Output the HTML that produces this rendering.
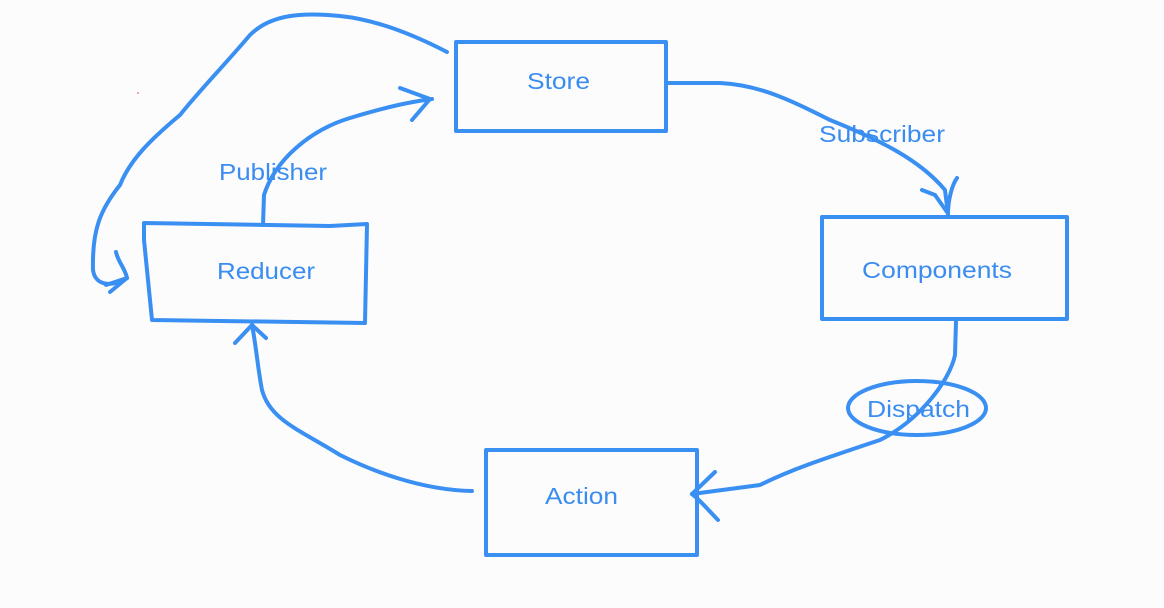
<!DOCTYPE html>
<html><head><meta charset="utf-8"><style>
html,body{margin:0;padding:0;background:#fcfcfc;}
svg{display:block}
text{font-family:"Liberation Sans",sans-serif;font-size:23px;fill:#3a8cf0}
</style></head><body>
<svg width="1164" height="608" viewBox="0 0 1164 608">
<rect width="1164" height="608" fill="#fcfcfc"/>
<g fill="none" stroke="#3a8ff2" stroke-width="4" stroke-linecap="round" stroke-linejoin="round">
<rect x="456" y="42" width="210" height="89"/>
<rect x="822" y="217" width="245" height="102"/>
<rect x="486" y="450" width="211" height="105"/>
<path d="M144 223 L144 240 L152 320 L365 323 L367 224 L330 226 L144 223"/>
<ellipse cx="917" cy="408" rx="69" ry="27"/>
<path d="M668 83 L720 83 C760 85 790 100 830 120 C880 140 920 160 945 190 L948 214"/>
<path d="M922 190 L935 195 L947 212 M948 214 C948 200 952 185 957 178"/>
<path d="M956 322 L955 355 C950 380 920 420 880 440 C820 460 790 470 760 485 L692 494"/>
<path d="M692 494 L715 472 M692 494 C700 500 710 512 718 520"/>
<path d="M472 491 C420 490 370 470 340 455 C300 430 270 420 262 390 C258 370 256 345 252 325"/>
<path d="M252 325 L235 343 M252 325 L266 338"/>
<path d="M263 225 L264 195 C275 160 310 130 350 118 C390 106 410 102 432 99"/>
<path d="M400 88 L430 99 L412 120"/>
<path d="M447 52 C420 38 380 20 340 16 C300 12 270 15 250 35 C220 70 200 90 180 115 C150 140 130 160 120 185 C100 210 92 230 93 270 C95 285 110 288 127 278"/>
<path d="M116 252 C118 262 125 268 127 278 L110 292 M127 278 L106 285"/>
</g>
<text x="527" y="89" textLength="63" lengthAdjust="spacingAndGlyphs">Store</text>
<text x="819" y="142" textLength="126" lengthAdjust="spacingAndGlyphs">Subscriber</text>
<text x="862" y="278" textLength="150" lengthAdjust="spacingAndGlyphs">Components</text>
<text x="867" y="417" textLength="103" lengthAdjust="spacingAndGlyphs">Dispatch</text>
<text x="545" y="504" textLength="73" lengthAdjust="spacingAndGlyphs">Action</text>
<text x="219" y="180" textLength="108" lengthAdjust="spacingAndGlyphs">Publisher</text>
<text x="217" y="279" textLength="98" lengthAdjust="spacingAndGlyphs">Reducer</text>
<circle cx="138" cy="93" r="0.8" fill="#e33"/>
</svg>
</body></html>
